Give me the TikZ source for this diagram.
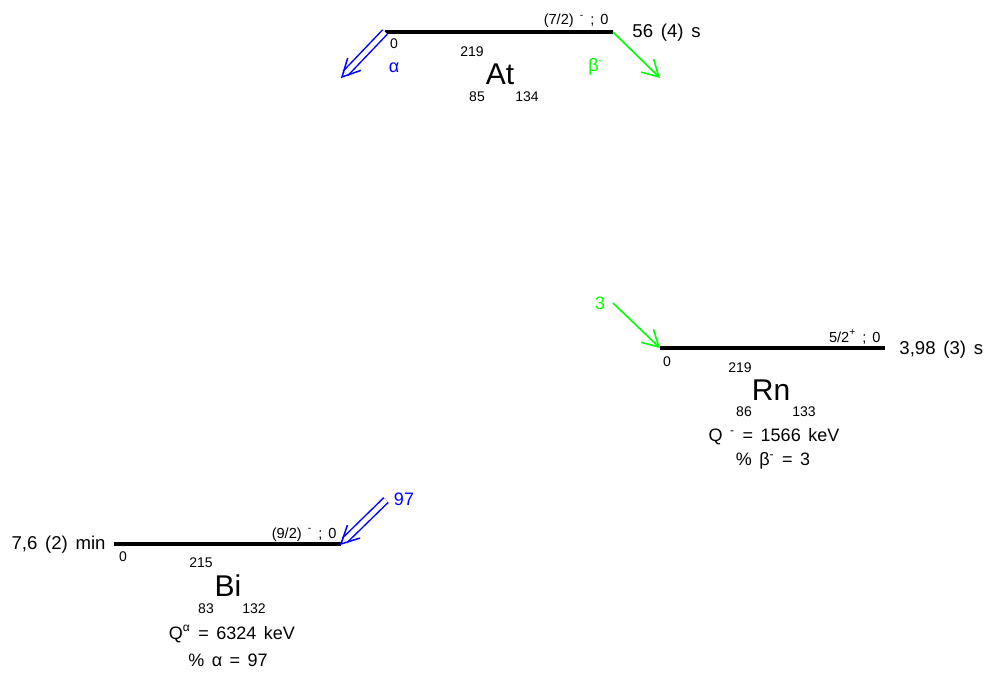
\documentclass[tikz,border=0pt]{standalone}
\usepackage{fontspec}
\setmainfont[WordSpace=1.5]{Liberation Sans}
\usetikzlibrary{arrows.meta}
\usetikzlibrary{calc}
\usetikzlibrary{positioning}

\tikzset{
  level/.style={line width=1.8pt},
  lbl/.style={inner sep=0pt,font=\fontsize{7}{8}\selectfont},
  spin/.style={inner sep=0pt,anchor=base east,font=\fontsize{7.3}{8}\selectfont},
  life/.style={inner sep=0pt,font=\fontsize{9.3}{11}\selectfont},
  elem/.style={inner sep=0pt,font=\fontsize{15}{17}\selectfont},
  qval/.style={inner sep=0pt,font=\fontsize{9}{11}\selectfont},
  betaarrow/.style={green,line width=0.8pt,-{Straight Barb[length=8pt,width=9pt]}},
  alphaline/.style={blue,line width=0.75pt,double,double distance=2.4pt,shorten >=2.5pt},
  alphahead/.style={blue,line width=0.75pt}
}

\begin{document}
\begin{tikzpicture}[x=0.5pt,y=-0.5pt]
    \useasboundingbox (0,0) rectangle (988,674);

    % At 219 (parent)
    \coordinate (At-l) at (385,32);
    \coordinate (At-r) at (613,32);
    \coordinate (At-a) at (342,77);
    \coordinate (At-b) at (660,78);
    \draw[level] (At-l) -- (At-r);
    \node[spin] (At-spin) at (609,25) {(7/2) \textsuperscript{-} ; 0};
    \node[life,anchor=west] (At-life) at (632,33) {56 (4) s};
    \node[lbl] (At-e) at (394,44) {0};
    \node[lbl] (At-A) at (472,52) {219};
    \node[elem] (At) at (500,74) {At};
    \node[lbl] (At-Z) at (477,97) {85};
    \node[lbl] (At-N) at (527,97) {134};
    \draw[alphaline] (At-l) -- (At-a);
    \draw[alphahead] ($(At-a)!10pt!27:(At-l)$) -- (At-a) -- ($(At-a)!10pt!-27:(At-l)$);
    \node[qval,blue] (At-alpha) at (394,68) {α};
    \draw[betaarrow] (At-r) -- (At-b);
    \node[qval,green] (At-beta) at (596,67) {β\textsuperscript{-}};

    % Rn 219 (beta- daughter)
    \coordinate (Rn-l) at (660,348);
    \coordinate (Rn-r) at (885,348);
    \coordinate (Rn-in) at (613,303);
    \draw[level] (Rn-l) -- (Rn-r);
    \node[spin] (Rn-spin) at (881,342) {5/2\textsuperscript{+} ; 0};
    \node[life,anchor=west] (Rn-life) at (899,350) {3,98 (3) s};
    \node[lbl] (Rn-e) at (667,362) {0};
    \node[lbl] (Rn-A) at (740,368) {219};
    \node[elem] (Rn) at (771,390) {Rn};
    \node[lbl] (Rn-Z) at (744,412) {86};
    \node[lbl] (Rn-N) at (804,412) {133};
    \node[qval] (Rn-Q) at (774,437) {Q \textsuperscript{-} = 1566 keV};
    \node[qval] (Rn-br) at (773,461) {\% β\textsuperscript{-} = 3};
    \draw[betaarrow] (Rn-in) -- (Rn-l);
    \node[qval,green] (Rn-in-lbl) at (600,303) {3};

    % Bi 215 (alpha daughter)
    \coordinate (Bi-l) at (114,544);
    \coordinate (Bi-r) at (341,544);
    \coordinate (Bi-in) at (386,500);
    \draw[level] (Bi-l) -- (Bi-r);
    \node[spin] (Bi-spin) at (337,538) {(9/2) \textsuperscript{-} ; 0};
    \node[life,anchor=east] (Bi-life) at (106,545) {7,6 (2) min};
    \node[lbl] (Bi-e) at (123,557) {0};
    \node[lbl] (Bi-A) at (201,563) {215};
    \node[elem] (Bi) at (228,586) {Bi};
    \node[lbl] (Bi-Z) at (206,609) {83};
    \node[lbl] (Bi-N) at (254,609) {132};
    \node[qval] (Bi-Q) at (232,634) {Q\textsuperscript{α} = 6324 keV};
    \node[qval] (Bi-br) at (228,660) {\% α = 97};
    \draw[alphaline] (Bi-in) -- (Bi-r);
    \draw[alphahead] ($(Bi-r)!10pt!27:(Bi-in)$) -- (Bi-r) -- ($(Bi-r)!10pt!-27:(Bi-in)$);
    \node[qval,blue] (Bi-in-lbl) at (404,499) {97};

\end{tikzpicture}
\end{document}
